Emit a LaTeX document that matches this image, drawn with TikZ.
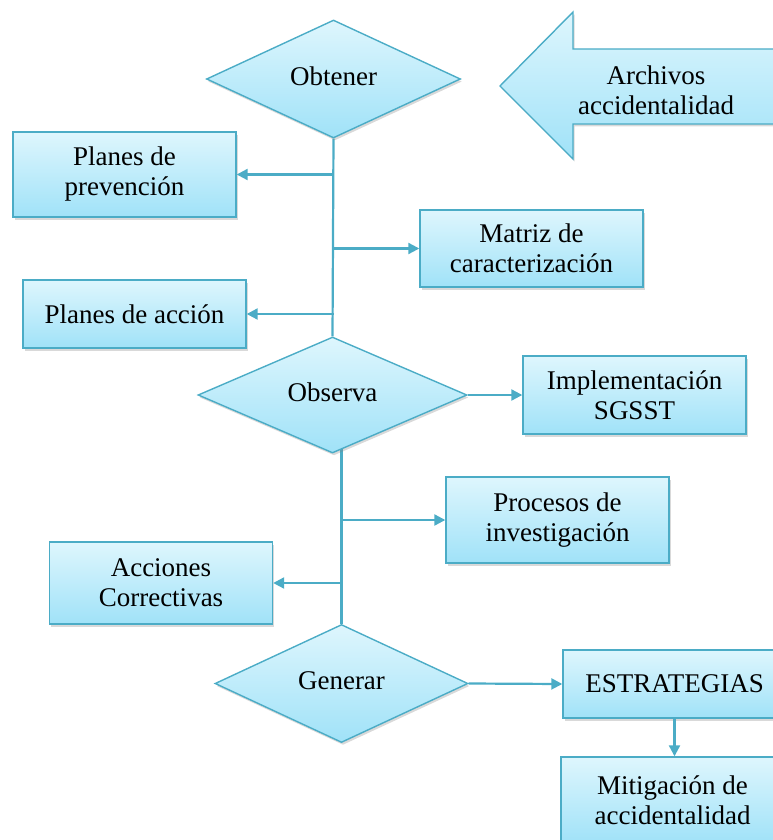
\documentclass[tikz,border=0pt]{standalone}
\usepackage{fontspec}
\setmainfont{Liberation Serif}
\usetikzlibrary{shapes.geometric,shadows,arrows.meta,backgrounds}
\definecolor{acc}{HTML}{4BACC6}
\definecolor{ftop}{HTML}{DEF6FD}
\definecolor{fbot}{HTML}{A0E2F8}
\tikzset{
  base/.style={draw=acc, line width=1.4pt, top color=ftop, bottom color=fbot,
    drop shadow={shadow xshift=1.5pt, shadow yshift=-2.5pt, opacity=0.3},
    font=\fontsize{27}{30}\selectfont, align=center, inner sep=0pt},
  boxn/.style={base, rectangle, minimum width=223pt},
  dia/.style={base, diamond, text depth=6pt},
  conn/.style={draw=acc, line width=2.2pt},
  arr/.style={conn, -{Triangle[length=11pt,width=11pt]}}
}
\begin{document}
\begin{tikzpicture}[x=1pt,y=-1pt]
\useasboundingbox (0,0) rectangle (773,840);
\clip (0,0) rectangle (773,840);
% diamonds
\node[dia, minimum width=254pt, minimum height=118pt] (obt) at (333.5,79) {Obtener};
\node[dia, minimum width=269pt, minimum height=116pt] (obs) at (332.5,395) {Observa};
\node[dia, minimum width=253pt, minimum height=118pt] (gen) at (341.5,683.5) {Generar};
% boxes
\node[boxn, minimum height=85pt] (prev) at (124.5,174.5) {Planes de\\prevención};
\node[boxn, minimum height=77pt] (matr) at (531.5,248.5) {Matriz de\\caracterización};
\node[boxn, minimum height=68pt] (pacc) at (134.5,314) {Planes de acción};
\node[boxn, minimum height=78pt] (impl) at (634.5,395) {Implementación\\SGSST};
\node[boxn, minimum height=86pt] (proc) at (557.5,520) {Procesos de\\investigación};
\node[boxn, minimum height=82pt] (acor) at (161,583) {Acciones\\Correctivas};
\node[boxn, minimum height=68pt] (estr) at (674.5,684) {ESTRATEGIAS};
\node[boxn, minimum height=86pt] (miti) at (672.5,800) {Mitigación de\\accidentalidad};
% big arrow
\path[base] (500,86) -- (573,12) -- (573,49) -- (800,49) -- (800,124) -- (573,124) -- (573,159) -- cycle;
\node[font=\fontsize{27}{30}\selectfont, align=center, inner sep=0pt] (arch) at (656,90) {Archivos\\accidentalidad};
% connectors
\begin{scope}[on background layer]
\draw[conn] (obt.south) -- (obs.north);
\draw[conn] (obs.center -| gen.north) -- (gen.north);
\end{scope}
\draw[arr] (prev.east -| obt.south) -- (prev.east);
\draw[arr] (matr.west -| obt.south) -- (matr.west);
\draw[arr] (pacc.east -| obt.south) -- (pacc.east);
\draw[arr] (obs.east) -- (impl.west);
\draw[arr] (proc.west -| gen.north) -- (proc.west);
\draw[arr] (acor.east -| gen.north) -- (acor.east);
\draw[arr] (gen.east) -- (estr.west);
\draw[arr] (estr.south) -- (estr.south |- miti.north);
\end{tikzpicture}
\end{document}
